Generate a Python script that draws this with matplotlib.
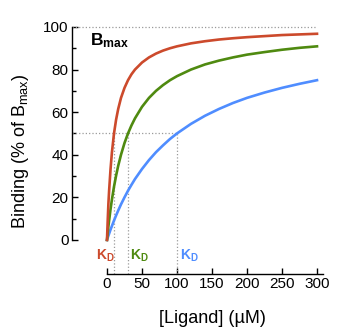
import matplotlib
matplotlib.use("Agg")
import matplotlib.pyplot as plt

plt.rcParams["font.family"] = ["Liberation Sans", "DejaVu Sans"]
plt.rcParams["mathtext.fontset"] = "custom"
plt.rcParams["mathtext.rm"] = "Liberation Sans"
plt.rcParams["mathtext.bf"] = "Liberation Sans:bold"
plt.rcParams["mathtext.it"] = "Liberation Sans:italic"

# values (% of Bmax at each ligand concentration)
ligand = [0, 1, 2, 3, 5, 7, 10, 13, 16, 20, 25, 30, 35, 40, 50, 60, 70, 80, 90,
          100, 120, 140, 160, 180, 200, 225, 250, 275, 300]
bind_red = [0, 9, 17, 23, 33, 41, 50, 56.5, 61.5, 66.7, 71.4, 75, 77.8, 80, 83.3,
            85.7, 87.5, 88.9, 90, 90.9, 92.3, 93.3, 94.1, 94.7, 95.2, 95.7, 96.2,
            96.5, 96.8]
bind_green = [0, 3.2, 6.3, 9.1, 14.3, 18.9, 25, 30.2, 34.8, 40, 45.5, 50, 53.8,
              57.1, 62.5, 66.7, 70, 72.7, 75, 76.9, 80, 82.4, 84.2, 85.7, 87, 88.2,
              89.3, 90.2, 90.9]
bind_blue = [0, 1, 2, 2.9, 4.8, 6.5, 9.1, 11.5, 13.8, 16.7, 20, 23.1, 25.9, 28.6,
             33.3, 37.5, 41.2, 44.4, 47.4, 50, 54.5, 58.3, 61.5, 64.3, 66.7, 69.2,
             71.4, 73.3, 75]
kd_values = [10, 30, 100]
kd_label_x = [-16, 33, 104]

RED, GREEN, BLUE = "#cc4a2c", "#4f8a10", "#4f8dff"
DOT = "#9a9a9a"

fig = plt.figure(figsize=(3.44, 3.36), dpi=100)
ax = fig.add_axes([72 / 344, 1 - 274 / 336, 252 / 344, 251.3 / 336])
ax.set_xlim(-50, 310)
ax.set_ylim(-16, 102)

# guide lines
ax.plot([-50, 300], [100, 100], ls=":", color=DOT, lw=0.9)
ax.plot([-50, 100], [50, 50], ls=":", color=DOT, lw=0.9)
for kd in kd_values:
    ax.plot([kd, kd], [-16, 50], ls=":", color=DOT, lw=0.9)

ax.plot(ligand, bind_blue, color=BLUE, lw=1.9)
ax.plot(ligand, bind_green, color=GREEN, lw=1.9)
ax.plot(ligand, bind_red, color=RED, lw=1.9)

for xl, c in zip(kd_label_x, [RED, GREEN, BLUE]):
    ax.text(xl, -3.5, r"$\mathbf{K_D}$", color=c, fontsize=10, ha="left", va="top")
ax.text(-25, 91.5, r"$\mathbf{B_{max}}$", fontsize=12.5, ha="left", va="baseline")

for s in ["top", "right"]:
    ax.spines[s].set_visible(False)
ax.spines["left"].set_bounds(0, 100)
ax.spines["bottom"].set_bounds(0, 308)
ax.spines["left"].set_linewidth(1.0)
ax.spines["bottom"].set_linewidth(1.0)

ax.set_yticks(range(0, 101, 20))
ax.set_yticks(range(10, 100, 20), minor=True)
ax.set_xticks(range(0, 301, 50))
ax.tick_params(which="major", direction="in", length=4.5, width=1.0, labelsize=11, pad=2.5)
ax.tick_params(which="minor", direction="in", length=3, width=1.0)
ax.tick_params(axis="x", which="minor", bottom=False)

# x label is centred on the data span, not on the whole axes box
ax.set_xlabel("[Ligand] (µM)", fontsize=13, labelpad=13.5, x=0.556)
ax.set_ylabel(r"Binding (% of B$_{\mathrm{max}}$)", fontsize=13, labelpad=9, y=0.49)

fig.savefig("out.png", dpi=100)
